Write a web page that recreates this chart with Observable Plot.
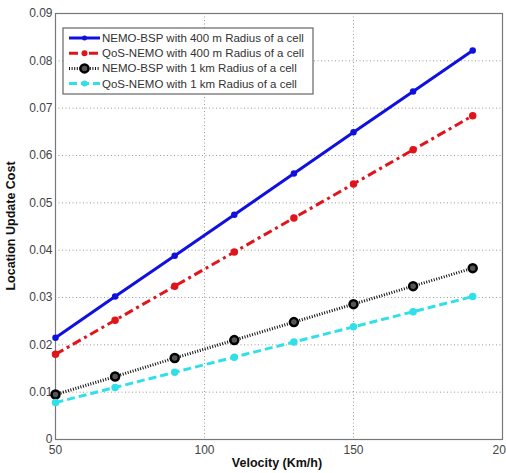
<!DOCTYPE html>
<html><head><meta charset="utf-8">
<script src="https://cdn.jsdelivr.net/npm/d3@7"></script>
<script src="https://cdn.jsdelivr.net/npm/@observablehq/plot@0.6"></script>
<style>body{margin:0;background:#fff;font-family:Arial,"Liberation Sans",sans-serif}</style>
</head><body><div id="chart"></div>
<script>
const velocity = [50, 70, 90, 110, 130, 150, 170, 190];
const nemoBsp400 = [0.0215, 0.0302, 0.0388, 0.0475, 0.0562, 0.0649, 0.0735, 0.0822];
const qosNemo400 = [0.0180, 0.0252, 0.0324, 0.0396, 0.0468, 0.0540, 0.0612, 0.0684];
const nemoBsp1k = [0.0095, 0.0133, 0.0172, 0.0210, 0.0248, 0.0286, 0.0324, 0.0362];
const qosNemo1k = [0.0078, 0.0110, 0.0142, 0.0174, 0.0206, 0.0238, 0.0270, 0.0302];
const seriesNames = [
  "NEMO-BSP with 400 m Radius of a cell",
  "QoS-NEMO with 400 m Radius of a cell",
  "NEMO-BSP with 1 km Radius of a cell",
  "QoS-NEMO with 1 km Radius of a cell"
];
const xTicks = [50, 100, 150, 200];
const yTicks = [0, 0.01, 0.02, 0.03, 0.04, 0.05, 0.06, 0.07, 0.08, 0.09];

const styles = [
  {color: "#1010e0", dash: null, r: 2.5, fill: "#1010e0"},
  {color: "#e0141a", dash: "9,4,3,4", r: 3, fill: "#e0141a"},
  {color: "#111111", dash: "1,1.6", r: 4, fill: "#555"},
  {color: "#30e0e8", dash: "8,4", r: 3, fill: "#30e0e8"}
];
const allSeries = [nemoBsp400, qosNemo400, nemoBsp1k, qosNemo1k];
const data = allSeries.map((vals, i) => velocity.map((v, j) => ({x: v, y: vals[j], s: i})));

const marks = [
  Plot.gridX(xTicks, {stroke: "#999", strokeOpacity: 1, strokeDasharray: "1,2.5", strokeWidth: 1}),
  Plot.gridY(yTicks, {stroke: "#999", strokeOpacity: 1, strokeDasharray: "1,2.5", strokeWidth: 1}),
  Plot.frame({stroke: "#777", strokeWidth: 1.2}),
  Plot.axisX(xTicks, {tickSize: 0, tickPadding: 6, fill: "#444", fontSize: 12, tickFormat: d => String(d)}),
  Plot.axisY(yTicks, {tickSize: 0, tickPadding: 3, fill: "#444", fontSize: 12, tickFormat: d => d === 0 ? "0" : d.toFixed(2)})
];
data.forEach((d, i) => {
  const st = styles[i];
  marks.push(Plot.line(d, {x: "x", y: "y", stroke: st.color, strokeWidth: 3, strokeDasharray: st.dash, strokeLinecap: "butt"}));
  if (i === 2) {
    marks.push(Plot.dot(d, {x: "x", y: "y", r: st.r, stroke: "#000", strokeWidth: 2.5, fill: "#555"}));
  } else {
    marks.push(Plot.dot(d, {x: "x", y: "y", r: st.r, fill: st.fill, stroke: st.color}));
  }
});

const chart = Plot.plot({
  width: 506, height: 473,
  marginLeft: 55, marginRight: 4, marginTop: 13, marginBottom: 34,
  style: {fontFamily: "Arial, 'Liberation Sans', sans-serif", background: "#fff"},
  x: {domain: [50, 200], label: null, axis: null},
  y: {domain: [0, 0.09], label: null, axis: null},
  marks
});

const svg = d3.select(chart);
svg.append("text").attr("x", 277).attr("y", 467).attr("text-anchor", "middle")
  .attr("font-size", 12.5).attr("font-weight", "bold").attr("fill", "#111").text("Velocity (Km/h)");
svg.append("text").attr("transform", "translate(15,226) rotate(-90)").attr("text-anchor", "middle")
  .attr("font-size", 12.5).attr("font-weight", "bold").attr("fill", "#111").text("Location Update Cost");

const lg = svg.append("g");
lg.append("rect").attr("x", 63).attr("y", 28).attr("width", 250).attr("height", 66)
  .attr("fill", "#fff").attr("stroke", "#666").attr("stroke-width", 1.2);
seriesNames.forEach((name, i) => {
  const st = styles[i];
  const yy = 38 + i * 15.2;
  lg.append("line").attr("x1", 69).attr("x2", 100).attr("y1", yy).attr("y2", yy)
    .attr("stroke", st.color).attr("stroke-width", 3).attr("stroke-dasharray", st.dash);
  if (i === 2) lg.append("circle").attr("cx", 84.5).attr("cy", yy).attr("r", 4).attr("fill", "#555").attr("stroke", "#000").attr("stroke-width", 2.5);
  else lg.append("circle").attr("cx", 84.5).attr("cy", yy).attr("r", st.r).attr("fill", st.fill);
  lg.append("text").attr("x", 102).attr("y", yy).attr("dy", "0.35em").attr("font-size", 11.5)
    .attr("text-anchor", "start").attr("fill", "#333").text(name);
});
document.getElementById("chart").appendChild(chart);
</script></body></html>
